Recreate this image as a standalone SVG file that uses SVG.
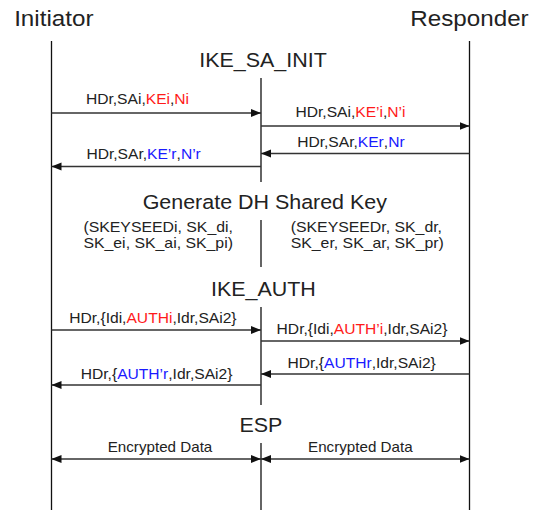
<svg xmlns="http://www.w3.org/2000/svg" width="541" height="510" viewBox="0 0 541 510">
<style>
text{font-family:"Liberation Sans",Arial,sans-serif;fill:#222}
.ttl{font-size:22px}
.ph{font-size:19.5px}
.msg{font-size:14.2px}
.par{font-size:14.4px}
.enc{font-size:13.8px}
.r{fill:#ff1a1a}
.b{fill:#1a1aff}
.life{stroke:#111;stroke-width:1.3;fill:none}
.arr{stroke:#333;stroke-width:1.5;fill:none}
.fwd{marker-end:url(#ah)}
.both{marker-start:url(#ahs);marker-end:url(#ah)}
</style>
<defs>
<marker id="ah" markerUnits="userSpaceOnUse" markerWidth="12" markerHeight="10" refX="10" refY="4" orient="auto">
<path d="M0,0 L10,4 L0,8 Z" fill="#111"/>
</marker>
<marker id="ahs" markerUnits="userSpaceOnUse" markerWidth="12" markerHeight="10" refX="0" refY="4" orient="auto">
<path d="M10,0 L0,4 L10,8 Z" fill="#111"/>
</marker>
</defs>
<rect width="541" height="510" fill="#fff"/>

<g id="initiator">
<text class="ttl" text-anchor="middle" transform="translate(53.8,26) scale(1.1,1)">Initiator</text>
<line class="life" x1="51.5" y1="41" x2="51.5" y2="510"/>
</g>
<g id="responder">
<text class="ttl" text-anchor="middle" transform="translate(469.5,26) scale(1.1,1)">Responder</text>
<line class="life" x1="469.5" y1="41" x2="469.5" y2="510"/>
</g>
<g id="middle">
<line class="life" x1="261" y1="78" x2="261" y2="182"/>
<line class="life" x1="261" y1="220" x2="261" y2="267"/>
<line class="life" x1="261" y1="307" x2="261" y2="405"/>
<line class="life" x1="261" y1="443" x2="261" y2="510"/>
</g>

<g id="ike_sa_init">
<text class="ph" text-anchor="middle" transform="translate(263,66.7) scale(1.1,1)">IKE_SA_INIT</text>
</g>
<g id="dh">
<text class="ph" text-anchor="middle" transform="translate(264.8,209) scale(1.1,1)">Generate DH Shared Key</text>
<text class="par" transform="translate(83.4,231.7) scale(1.1,1)">(SKEYSEEDi, SK_di,</text>
<text class="par" transform="translate(83.4,248.3) scale(1.1,1)">SK_ei, SK_ai, SK_pi)</text>
<text class="par" transform="translate(290.7,231.7) scale(1.1,1)">(SKEYSEEDr, SK_dr,</text>
<text class="par" transform="translate(290.7,248.3) scale(1.1,1)">SK_er, SK_ar, SK_pr)</text>
</g>
<g id="ike_auth">
<text class="ph" text-anchor="middle" transform="translate(263.4,296) scale(1.1,1)">IKE_AUTH</text>
</g>
<g id="esp">
<text class="ph" text-anchor="middle" transform="translate(260.9,432.3) scale(1.1,1)">ESP</text>
</g>

<g id="connectors">
<line class="arr fwd" x1="51.5" y1="113" x2="261" y2="113"/>
<line class="arr fwd" x1="261" y1="126" x2="469.5" y2="126"/>
<line class="arr fwd" x1="469.5" y1="153.5" x2="261" y2="153.5"/>
<line class="arr fwd" x1="261" y1="166.5" x2="51.5" y2="166.5"/>
<line class="arr fwd" x1="51.5" y1="330" x2="261" y2="330"/>
<line class="arr fwd" x1="261" y1="341" x2="469.5" y2="341"/>
<line class="arr fwd" x1="469.5" y1="374" x2="261" y2="374"/>
<line class="arr fwd" x1="261" y1="385" x2="51.5" y2="385"/>
<line class="arr both" x1="51.5" y1="459" x2="261" y2="459"/>
<line class="arr both" x1="261" y1="459" x2="469.5" y2="459"/>
</g>

<g id="labels">
<text class="msg" text-anchor="middle" transform="translate(137.5,104) scale(1.1,1)">HDr,SAi,<tspan class="r">KEi</tspan>,<tspan class="r">Ni</tspan></text>
<text class="msg" text-anchor="middle" transform="translate(350.5,116.7) scale(1.1,1)">HDr,SAi,<tspan class="r">KE’i</tspan>,<tspan class="r">N’i</tspan></text>
<text class="msg" text-anchor="middle" transform="translate(350.9,146.7) scale(1.1,1)">HDr,SAr,<tspan class="b">KEr</tspan>,<tspan class="b">Nr</tspan></text>
<text class="msg" text-anchor="middle" transform="translate(143.6,159.3) scale(1.1,1)">HDr,SAr,<tspan class="b">KE’r</tspan>,<tspan class="b">N’r</tspan></text>
<text class="msg" text-anchor="middle" transform="translate(152.9,323.3) scale(1.1,1)">HDr,{Idi,<tspan class="r">AUTHi</tspan>,Idr,SAi2}</text>
<text class="msg" text-anchor="middle" transform="translate(362,334) scale(1.1,1)">HDr,{Idi,<tspan class="r">AUTH’i</tspan>,Idr,SAi2}</text>
<text class="msg" text-anchor="middle" transform="translate(361.7,368.3) scale(1.1,1)">HDr,{<tspan class="b">AUTHr</tspan>,Idr,SAi2}</text>
<text class="msg" text-anchor="middle" transform="translate(156.6,379.3) scale(1.1,1)">HDr,{<tspan class="b">AUTH’r</tspan>,Idr,SAi2}</text>
<text class="enc" text-anchor="middle" transform="translate(160,451.7) scale(1.1,1)">Encrypted Data</text>
<text class="enc" text-anchor="middle" transform="translate(360.3,451.7) scale(1.1,1)">Encrypted Data</text>
</g>
</svg>
